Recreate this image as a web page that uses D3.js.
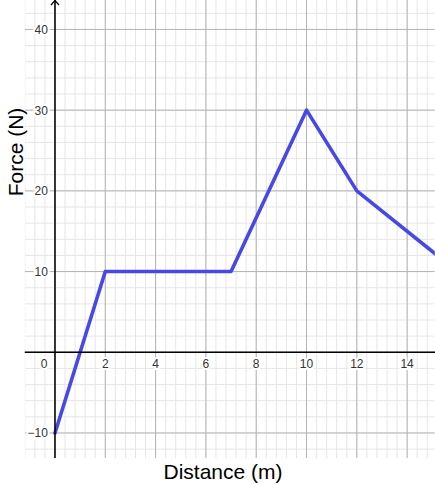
<!DOCTYPE html>
<html>
<head>
<meta charset="utf-8">
<script src="https://cdn.jsdelivr.net/npm/d3@7/dist/d3.min.js"></script>
<style>
  html, body { margin: 0; padding: 0; background: #fff; }
  svg { display: block; }
</style>
</head>
<body>
<svg id="chart" width="435" height="485"></svg>
<script>
// Data
const distance = [0, 2, 7, 10, 12, 16];
const force    = [-10, 10, 10, 30, 20, 10];
const xTickValues = [0, 2, 4, 6, 8, 10, 12, 14];
const yTickValues = [-10, 10, 20, 30, 40];
const xTitle = "Distance (m)";
const yTitle = "Force (N)";

const W = 435, H = 485;
const plot = { left: 24.8, right: 434.8, top: 0.4, bottom: 458 };
const xDomain = [-1.2, 15.1];
const yDomain = [-13.1, 43.6];

const svg = d3.select("#chart");
const x = d3.scaleLinear().domain(xDomain).range([plot.left, plot.right]);
const y = d3.scaleLinear().domain(yDomain).range([plot.bottom, plot.top]);

svg.append("defs").append("clipPath").attr("id", "clip")
  .append("rect")
  .attr("x", plot.left).attr("y", 0)
  .attr("width", plot.right - plot.left).attr("height", plot.bottom);

const g = svg.append("g").attr("clip-path", "url(#clip)");

// minor grid
const xMinor = d3.range(-1.2, 15.2 + 1e-9, 0.4).map(v => +v.toFixed(2));
const yMinor = d3.range(-12, 44 + 1e-9, 2);
g.append("g").selectAll("line").data(xMinor).join("line")
  .attr("x1", d => x(d)).attr("x2", d => x(d))
  .attr("y1", plot.top - 1).attr("y2", plot.bottom)
  .attr("stroke", "#e6e6e6").attr("stroke-width", 1);
g.append("g").selectAll("line").data(yMinor).join("line")
  .attr("x1", plot.left).attr("x2", plot.right)
  .attr("y1", d => y(d)).attr("y2", d => y(d))
  .attr("stroke", "#e6e6e6").attr("stroke-width", 1);

// major grid
const xMajor = d3.range(-2, 16 + 1e-9, 2);
const yMajor = d3.range(-10, 40 + 1e-9, 10);
g.append("g").selectAll("line").data(xMajor).join("line")
  .attr("x1", d => x(d)).attr("x2", d => x(d))
  .attr("y1", plot.top - 1).attr("y2", plot.bottom)
  .attr("stroke", "#b4b4b4").attr("stroke-width", 1);
g.append("g").selectAll("line").data(yMajor).join("line")
  .attr("x1", plot.left).attr("x2", plot.right)
  .attr("y1", d => y(d)).attr("y2", d => y(d))
  .attr("stroke", "#b4b4b4").attr("stroke-width", 1);

// axes lines
svg.append("line")
  .attr("x1", plot.left).attr("x2", W)
  .attr("y1", y(0)).attr("y2", y(0))
  .attr("stroke", "#000").attr("stroke-width", 1.5);
svg.append("line")
  .attr("x1", x(0)).attr("x2", x(0))
  .attr("y1", 0).attr("y2", plot.bottom)
  .attr("stroke", "#000").attr("stroke-width", 1.5);
// arrow on y axis
svg.append("path")
  .attr("d", `M${x(0) - 4},${5} L${x(0)},${0.5} L${x(0) + 4},${5}`)
  .attr("fill", "none").attr("stroke", "#000").attr("stroke-width", 1.2);

// tick labels
const labelFont = "Arial, 'Liberation Sans', sans-serif";
svg.append("g").selectAll("text").data(xTickValues).join("text")
  .attr("x", d => d === 0 ? x(0) - 11 : x(d))
  .attr("y", y(0) + 16)
  .attr("text-anchor", "middle")
  .attr("font-family", labelFont).attr("font-size", 12)
  .attr("fill", "#333")
  .attr("stroke", "#fff").attr("stroke-width", 4)
  .attr("paint-order", "stroke")
  .text(d => d);
svg.append("g").selectAll("text").data(yTickValues).join("text")
  .attr("x", x(0) - 7)
  .attr("y", d => y(d) + 4.5)
  .attr("text-anchor", "end")
  .attr("font-family", labelFont).attr("font-size", 12)
  .attr("fill", "#333")
  .attr("stroke", "#fff").attr("stroke-width", 4)
  .attr("paint-order", "stroke")
  .text(d => d < 0 ? "\u2212" + Math.abs(d) : d);

// line
const pts = distance.map((d, i) => [d, force[i]]);
g.append("path")
  .datum(pts)
  .attr("d", d3.line().x(d => x(d[0])).y(d => y(d[1])))
  .attr("fill", "none")
  .attr("stroke", "#4848e4")
  .attr("stroke-width", 3.6)
  .attr("stroke-linejoin", "round")
  .attr("stroke-linecap", "round");

// titles
svg.append("text")
  .attr("x", 223).attr("y", 479)
  .attr("text-anchor", "middle")
  .attr("font-family", labelFont).attr("font-size", 21)
  .attr("fill", "#000")
  .text(xTitle);
svg.append("text")
  .attr("transform", `translate(22.5,152) rotate(-90)`)
  .attr("text-anchor", "middle")
  .attr("font-family", labelFont).attr("font-size", 21)
  .attr("fill", "#000")
  .text(yTitle);
</script>
</body>
</html>
